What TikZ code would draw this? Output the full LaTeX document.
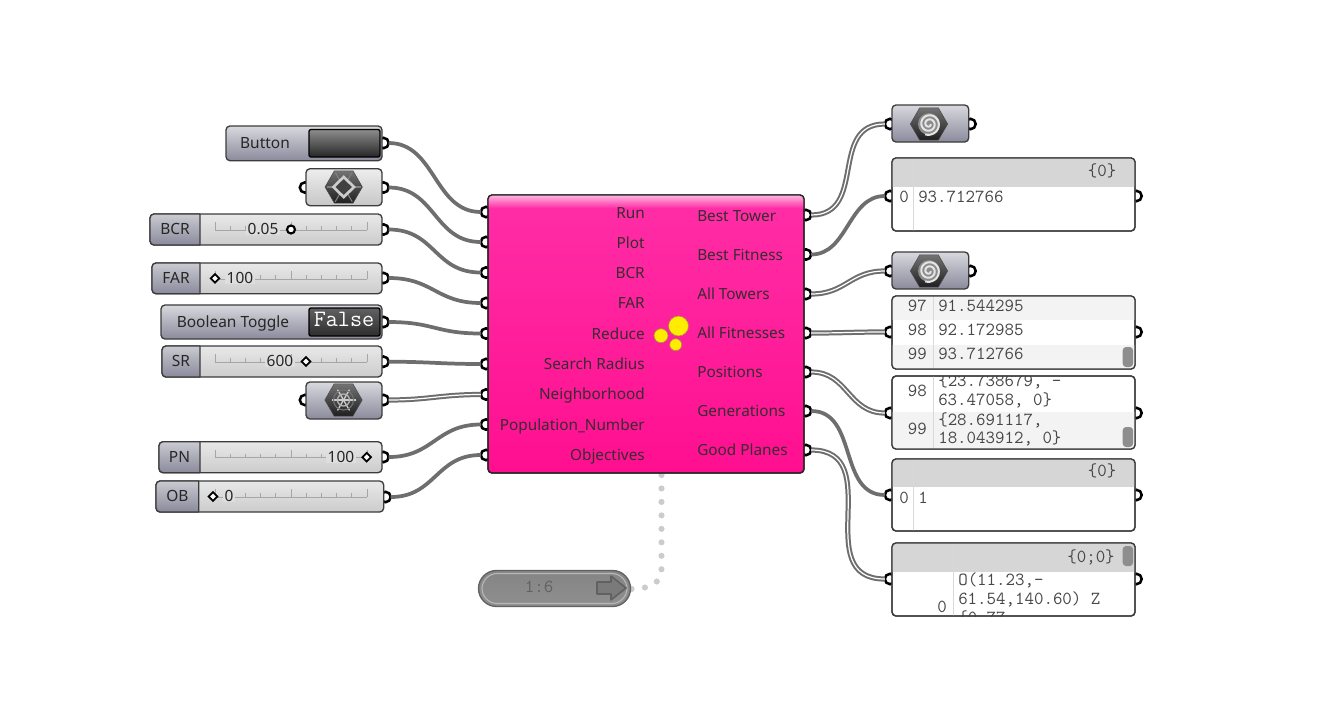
\documentclass[tikz,border=0pt]{standalone}
\usepackage{fontspec}
\setmainfont{Noto Sans}
\usetikzlibrary{fit,shapes.geometric}

\definecolor{wiregray}{HTML}{6E6E6E}
\definecolor{boxline}{HTML}{3C3C3C}
\definecolor{headgray}{HTML}{D6D6D6}
\definecolor{stripegray}{HTML}{F3F3F3}
\definecolor{thumbgray}{HTML}{8E8E8E}
\definecolor{pinktop}{HTML}{FF2EA6}
\definecolor{pinkbot}{HTML}{FF0F90}
\definecolor{slatetop}{HTML}{D8D8DE}
\definecolor{slatemid}{HTML}{A9A9B5}
\definecolor{slatebot}{HTML}{8A8A9C}

\tikzset{
	port/.style={circle, draw=black, line width=1.9pt, fill=white, inner sep=0pt, outer sep=0pt, minimum size=7.8pt},
	wire/.style={draw=wiregray, line width=2.8pt},
	wiredouble/.style={draw=wiregray, line width=1.5pt, double=white, double distance=0.9pt},
	dotwire/.style={draw=black!20, line width=4.6pt, line cap=round, dash pattern=on 0pt off 10.1pt},
	body/.style={draw=boxline, line width=1pt, rounded corners=3pt, inner sep=0pt, outer sep=0pt},
	sliderbody/.style={body, top color=black!9, bottom color=black!20},
	greybody/.style={body, top color=black!7, bottom color=black!22},
	purplebody/.style={body, top color=slatetop, middle color=slatemid, bottom color=slatebot},
	tag/.style={draw=boxline, line width=1pt, top color=slatetop!70!slatemid, middle color=slatemid, bottom color=slatebot},
	uitext/.style={font=\fontsize{11.6}{13}\selectfont, text=black!85, inner sep=0pt, text height=9.9pt, text depth=2.4pt},
	maintext/.style={font=\fontsize{11.5}{13}\selectfont, text=black!92!magenta, inner sep=0pt, text height=9.9pt, text depth=2.4pt},
	monotext/.style={font=\fontsize{13.8}{14}\selectfont\ttfamily, text=black!72, inner sep=0pt, anchor=west, text height=9.9pt, text depth=2.2pt},
	numtext/.style={monotext, anchor=east},
	markdot/.style={circle, draw=black, line width=1.6pt, fill=white, inner sep=0pt, minimum size=6pt},
	markdia/.style={diamond, draw=black, line width=1.3pt, fill=white, inner sep=0pt, minimum size=7pt},
	hexicon/.style={regular polygon, regular polygon sides=6, inner sep=0pt, minimum size=28pt, draw=black!70, top color=black!55, bottom color=black!88},
	thumb/.style={fill=thumbgray, rounded corners=2.5pt},
	blob/.style={circle, fill=yellow!95!orange, draw=orange!60!black!70, line width=0.5pt, inner sep=0pt},
}

\begin{document}
\begin{tikzpicture}[x=0.75pt, y=-0.75pt]
	\useasboundingbox (0,0) rectangle (1319,703);
	
	% main inputs and outputs
	\foreach \nm/\py in {runIn/212, plotIn/242, bcrIn/272.5, farIn/303, reduceIn/333.5,
		radiusIn/364, neighbourIn/394.5, popIn/424.5, objIn/455}
		\node[port] (\nm) at (486,\py) {};
	\foreach \nm/\py in {towerOut/215, fitOut/254.5, towersOut/294, fitsOut/333, posOut/372, genOut/411, planesOut/450}
		\node[port] (\nm) at (806,\py) {};
	
	% ports of the small components
	\foreach \nm/\px/\py in {buttonOut/383.5/143, diaIn/305/187.5, diaOut/383.5/187.5, bcrOut/383.5/229.5, farOut/383.5/278,
		toggleOut/383.5/322, srOut/383.5/361.7, meshIn/305/400, meshOut/383.5/400, pnOut/383.5/457, obOut/385.5/497,
		spiralAIn/890/124, spiralAOut/970.5/124, spiralBIn/890/271, spiralBOut/970.5/271,
		panelAIn/890/196, panelAOut/1136.5/196, panelBIn/890/332, panelBOut/1136.5/332, panelCIn/890/413, panelCOut/1136.5/413,
		panelDIn/890/495, panelDOut/1136.5/495, panelEIn/890/579, panelEOut/1136.5/579}
		\node[port] (\nm) at (\px,\py) {};
	
	% dotted link, under the box and the pill
	\coordinate (tail) at (661.5,475);
	\coordinate (relayEnd) at (630,589);
	\draw[dotwire] (tail) -- (661.5,569) .. controls (661.5,582) and (652,589) .. (relayEnd);
	\node[draw=black!62, line width=1pt, rounded corners=13.5pt, inner sep=0pt, outer sep=0pt, top color=black!48, bottom color=black!44, fit={(478.5,570.5) (630.5,606.5)}] (relay) {};
	\node[draw=black!28, line width=0.8pt, rounded corners=11.5pt, inner sep=0pt, fit={(482,573.5) (627,603.5)}] (relayRim) {};
	\node[monotext, anchor=center, text=black!62] (relayText) at (539,587) {1:6};
	\draw[draw=black!62, fill=black!52, line width=1.2pt, line join=round] (597,582) -- (611,582) -- (611,576) -- (626,588) -- (611,600) -- (611,594) -- (597,594) -- cycle;
	
	% main box
	\node[body, draw=black!85, top color=pinktop, bottom color=pinkbot, fit={(488,195) (804,473)}] (genome) {};
	\begin{scope}
		\clip[rounded corners=3pt] (genome.north west) rectangle (genome.south east);
		\fill[top color=white!65!pinktop, bottom color=pinktop] (488,195) rectangle (804,208);
	\end{scope}
	\draw[draw=black!85, line width=1pt, rounded corners=3pt] (genome.north west) rectangle (genome.south east);
	
	\foreach \nm/\py/\lab in {run/213/Run, plot/243/Plot, bcr/273/BCR, far/303/FAR, reduce/334/Reduce,
		radius/364/Search Radius, neighbour/394/Neighborhood, pop/425/Population\_Number, obj/455/Objectives}
		\node[maintext, anchor=east] (\nm Label) at (645,\py) {\lab};
	\foreach \nm/\py/\lab in {tower/216/Best Tower, fit/255/Best Fitness, towers/294/All Towers, fits/333/All Fitnesses,
		pos/372/Positions, gen/411/Generations, planes/450/Good Planes}
		\node[maintext, anchor=west] (\nm Label) at (697,\py) {\lab};
	
	\node[blob, minimum size=15pt] (blobA) at (678.5,326) {};
	\node[blob, minimum size=10.5pt] (blobB) at (661,335.7) {};
	\node[blob, minimum size=9pt] (blobC) at (675.7,344.7) {};
	
	% sliders
	\foreach \nm/\xl/\xr/\yt/\yb/\xc/\lab/\val/\vx/\mx/\mk in {
		bcr/150/382/214/245/200/BCR/0.05/263/291/markdot,
		far/152/382/263/293.7/200/FAR/100/240/215/markdia,
		sr/162/382/346/377/200/SR/600/280/306/markdia,
		pn/159/382/441.7/472.7/200/PN/100/341/366.7/markdia,
		ob/156/383.7/481/512/198.7/OB/0/229/213/markdia}{
		\node[sliderbody, fit={(\xl,\yt) (\xr,\yb)}] (\nm Slider) {};
		\draw[tag, line join=round] (\xc,\yb) -- (\xc,\yt) [rounded corners=3pt] -- (\xl,\yt) -- (\xl,\yb) [sharp corners] -- (\xc,\yb) -- cycle;
		\node[uitext] (\nm Tag) at ({(\xl+\xc)/2},{(\yt+\yb)/2}) {\lab};
		\draw[black!35, line width=0.5pt] (215,\yt+16) -- (367,\yt+16);
		\foreach \i in {0,...,10}
			\draw[black!35, line width=0.5pt] (215+15.2*\i,\yt+16) -- +(0,-4);
		\foreach \i in {0,5,10}
			\draw[black!35, line width=0.5pt] (215+15.2*\i,\yt+16) -- +(0,-8);
		\node[uitext, fill=black!13, inner xsep=1pt, text height=8pt, text depth=0.5pt] (\nm Value) at (\vx,{(\yt+\yb)/2}) {\val};
		\node[\mk] (\nm Mark) at (\mx,{(\yt+\yb)/2}) {};
	}
	
	% button and toggle
	\node[purplebody, fit={(226,126) (382,160.7)}] (button) {};
	\node[uitext] (buttonText) at (265,143) {Button};
	\node[draw=black, line width=1pt, rounded corners=1.5pt, inner sep=0pt, top color=black!45, middle color=black!68, bottom color=black!85, fit={(309,129.5) (380,157)}] (buttonFace) {};
	\node[purplebody, fit={(161,305) (382,339)}] (toggle) {};
	\node[uitext] (toggleText) at (233,322) {Boolean Toggle};
	\node[draw=black, line width=1pt, rounded corners=1.5pt, inner sep=0pt, top color=black!62, bottom color=black!82, fit={(309,308) (380,336)}] (toggleFace) {};
	\node[monotext, anchor=center, text=white, font=\fontsize{17.6}{18}\selectfont\ttfamily] (toggleValue) at (344,321) {False};
	
	% hexagon components
	\node[greybody, fit={(306,168.7) (382,205.7)}] (dia) {};
	\node[hexicon] (diaIcon) at (343.7,187) {};
	\foreach \ang in {0,60,120}
		\draw[black!50, line width=0.8pt] (343.7,187) +(\ang:17) -- +(\ang+180:17);
	\fill[black!75] (343.7,177) -- (354,187) -- (343.7,197) -- (333.4,187) -- cycle;
	\draw[white!80!black, line width=2pt] (343.7,177) -- (354,187) -- (343.7,197) -- (333.4,187) -- cycle;
	\node[purplebody, fit={(306,382) (382,419)}] (mesh) {};
	\node[hexicon] (meshIcon) at (343.5,400) {};
	\foreach \ang in {0,60,120}
		\draw[white!80!black, line width=1pt] (343.5,400) +(\ang:12) -- +(\ang+180:12);
	\draw[white!70!black, line width=1pt] (343.5,400) circle (6);
	\draw[black!55, line width=0.8pt] (343.5,400) circle (10);
	\foreach \nm/\px/\py in {spiralA/929/124, spiralB/929/271}{
		\node[purplebody, fit={(892,\py-19) (968.7,\py+18)}] (\nm) {};
		\node[hexicon] (\nm Icon) at (\px,\py) {};
		\fill[black!45] (\px,\py) circle (11);
		\draw[white!90!black, line width=1.5pt, variable=\ang, domain=0:830, samples=70, smooth] plot ({\px+(1.5+\ang*0.0115)*cos(\ang)},{\py+(1.5+\ang*0.0115)*sin(\ang)});
	}
	
	% panels
	\node[body, fill=white, fit={(892,158) (1135,231)}] (panelA) {};
	\node[body, fill=white, fit={(892,296) (1135,369)}] (panelB) {};
	\node[body, fill=white, fit={(892,376) (1135,449)}] (panelC) {};
	\node[body, fill=white, fit={(892,459) (1135,531)}] (panelD) {};
	\node[body, fill=white, fit={(892,543) (1135,616)}] (panelE) {};
	
	\begin{scope}
		\clip[rounded corners=3pt] (panelA.north west) rectangle (panelA.south east);
		\fill[headgray] (892,158) rectangle (1135,186.7);
		\draw[black!15] (913,158) -- (913,231);
		\node[monotext, anchor=center] (panelAHead) at (1102,171) {\{0\}};
		\node[numtext] (panelAIdx) at (909,197) {0};
		\node[monotext] (panelAVal) at (918,197) {93.712766};
	\end{scope}
	\begin{scope}
		\clip[rounded corners=3pt] (panelB.north west) rectangle (panelB.south east);
		\fill[stripegray] (892,296) rectangle (1135,320);
		\fill[stripegray] (892,345) rectangle (1135,369);
		\draw[black!15] (933,296) -- (933,369);
		\foreach \py/\i/\v in {306/97/91.544295, 330/98/92.172985, 354/99/93.712766}{
			\node[numtext] (panelBIdx\i) at (927,\py) {\i};
			\node[monotext] (panelBVal\i) at (938,\py) {\v};
		}
		\fill[thumb] (1122.7,347) rectangle (1133,367);
	\end{scope}
	\begin{scope}
		\clip[rounded corners=3pt] (panelC.north west) rectangle (panelC.south east);
		\fill[stripegray] (892,412) rectangle (1135,449);
		\draw[black!15] (933,376) -- (933,449);
		\node[numtext] (panelCIdxA) at (927,391) {98};
		\node[monotext] (panelCValA) at (938,381) {\{23.738679, -};
		\node[monotext] (panelCValB) at (938,400) {63.47058, 0\}};
		\node[numtext] (panelCIdxB) at (927,429) {99};
		\node[monotext] (panelCValC) at (938,420) {\{28.691117,};
		\node[monotext] (panelCValD) at (938,438) {18.043912, 0\}};
		\fill[thumb] (1122.7,427) rectangle (1133,447);
	\end{scope}
	\begin{scope}
		\clip[rounded corners=3pt] (panelD.north west) rectangle (panelD.south east);
		\fill[headgray] (892,459) rectangle (1135,487);
		\draw[black!15] (913,459) -- (913,531);
		\node[monotext, anchor=center] (panelDHead) at (1102,471) {\{0\}};
		\node[numtext] (panelDIdx) at (909,498) {0};
		\node[monotext] (panelDVal) at (918,498) {1};
	\end{scope}
	\begin{scope}
		\clip[rounded corners=3pt] (panelE.north west) rectangle (panelE.south east);
		\fill[headgray] (892,543) rectangle (1135,572);
		\draw[black!15] (953,543) -- (953,616);
		\node[monotext, anchor=center] (panelEHead) at (1091,557) {\{0;0\}};
		\node[numtext] (panelEIdx) at (947,607) {0};
		\node[monotext] (panelEValA) at (958,580) {O(11.23,-};
		\node[monotext] (panelEValB) at (958,599) {61.54,140.60) Z};
		\node[monotext] (panelEValC) at (958,618) {\{0.77,};
		\fill[thumb] (1122.7,546) rectangle (1133,566);
	\end{scope}
	\foreach \nm in {panelA,panelB,panelC,panelD,panelE}
		\draw[draw=boxline, line width=1pt, rounded corners=3pt] (\nm.north west) rectangle (\nm.south east);
	
	% wires
	\foreach \a/\b/\off in {buttonOut/runIn/52, diaOut/plotIn/52, bcrOut/bcrIn/52, farOut/farIn/50, toggleOut/reduceIn/50,
		srOut/radiusIn/45, pnOut/popIn/50, obOut/objIn/50, fitOut/panelAIn/42, genOut/panelDIn/52}
		\draw[wire] (\a) .. controls +(\off,0) and +(-\off,0) .. (\b);
	\foreach \a/\b/\off in {meshOut/neighbourIn/45, towerOut/spiralAIn/62, towersOut/spiralBIn/40, fitsOut/panelBIn/40,
		posOut/panelCIn/42, planesOut/panelEIn/82}
		\draw[wiredouble] (\a) .. controls +(\off,0) and +(-\off,0) .. (\b);
\end{tikzpicture}
\end{document}
